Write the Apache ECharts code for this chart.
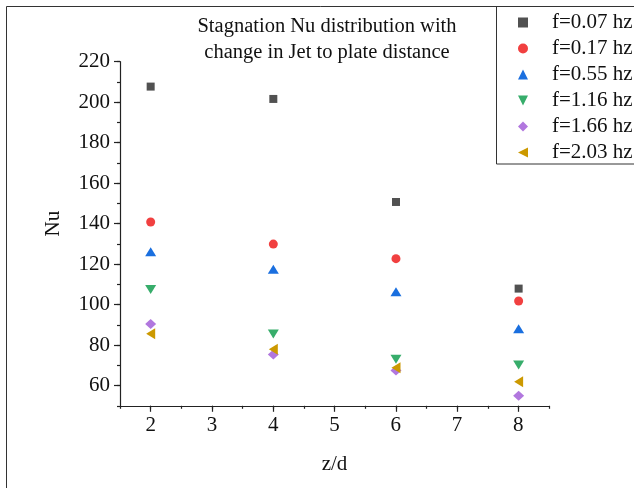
<!DOCTYPE html>
<html>
<head>
<meta charset="utf-8">
<script src="https://cdn.jsdelivr.net/npm/echarts@6/dist/echarts.min.js"></script>
<style>html,body{margin:0;padding:0;background:#fff}#c{width:634px;height:488px}</style>
</head>
<body>
<div id="c"></div>
<script>
const zd = [2, 4, 6, 8];
const seriesNames = ['f=0.07 hz', 'f=0.17 hz', 'f=0.55 hz', 'f=1.16 hz', 'f=1.66 hz', 'f=2.03 hz'];
const nu007 = [207.7, 201.6, 150.7, 107.9];
const nu017 = [140.8, 129.9, 122.7, 101.8];
const nu055 = [126.1, 117.4, 106.4, 88.1];
const nu116 = [107.5, 85.5, 73.0, 70.1];
const nu166 = [90.4, 75.4, 67.5, 55.0];
const nu203 = [85.6, 77.9, 68.8, 61.9];
const yTickLabels = [60, 80, 100, 120, 140, 160, 180, 200, 220];
const xTickLabels = [2, 3, 4, 5, 6, 7, 8];

const allValues = [nu007, nu017, nu055, nu116, nu166, nu203];
const colors = ['#515151', '#F14040', '#1A6FDF', '#37AD6B', '#B177DE', '#CC9900'];
const symbols = ['rect', 'circle', 'triangle', 'path://M0,0 L2,0 L1,2 Z', 'diamond', 'path://M0,1 L2,0 L2,2 Z'];
const sizes = [[8, 8], [9, 9], [11, 9], [11, 9], [11, 10], [9, 11]];
const serif = 'Liberation Serif';

const chart = echarts.init(document.getElementById('c'), null, {renderer: 'canvas'});
const axisLineStyle = {color: '#222', width: 1.2};

const option = {
  animation: false,
  backgroundColor: '#fff',
  title: {
    text: 'Stagnation Nu distribution with\nchange in Jet to plate distance',
    left: 322, top: 9, textAlign: 'center',
    textStyle: {fontFamily: serif, fontSize: 20.5, fontWeight: 'normal', color: '#111', lineHeight: 26}
  },
  legend: {
    orient: 'vertical', left: 513, top: 7,
    itemWidth: 10, itemHeight: 10, itemGap: 5,
    data: seriesNames,
    textStyle: {fontFamily: serif, fontSize: 21, color: '#111', lineHeight: 20, padding: [0, 0, 0, 19]}
  },
  grid: [
    {left: 120, right: 84.7, top: 61.7, bottom: 82.2},
    {left: 120, right: 84.7, top: 61.7, bottom: 102.5},
    {left: 150.7, right: 115.7, top: 61.7, bottom: 82.2}
  ],
  xAxis: [
    {gridIndex: 0, type: 'value', min: 1.5, max: 8.5, interval: 0.5,
     axisLine: {show: true, lineStyle: axisLineStyle}, axisTick: {show: true, length: 3, lineStyle: axisLineStyle},
     axisLabel: {show: false}, splitLine: {show: false}},
    {gridIndex: 1, type: 'value', min: 1.5, max: 8.5, show: false},
    {gridIndex: 2, type: 'value', min: xTickLabels[0], max: xTickLabels[xTickLabels.length - 1], interval: 1,
     axisLine: {show: false}, axisTick: {show: true, length: 6, lineStyle: axisLineStyle},
     axisLabel: {show: true, fontFamily: serif, fontSize: 21, color: '#111', margin: 9},
     splitLine: {show: false},
     name: 'z/d', nameLocation: 'middle', nameGap: 48,
     nameTextStyle: {fontFamily: serif, fontSize: 21, color: '#111'}}
  ],
  yAxis: [
    {gridIndex: 0, type: 'value', min: 50, max: 220, interval: 10,
     axisLine: {show: true, lineStyle: axisLineStyle}, axisTick: {show: true, length: 3, lineStyle: axisLineStyle},
     axisLabel: {show: false}, splitLine: {show: false}},
    {gridIndex: 1, type: 'value', min: yTickLabels[0], max: yTickLabels[yTickLabels.length - 1], interval: 20,
     axisLine: {show: false}, axisTick: {show: true, length: 6, lineStyle: axisLineStyle},
     axisLabel: {show: true, fontFamily: serif, fontSize: 21, color: '#111', margin: 10},
     splitLine: {show: false},
     name: 'Nu', nameLocation: 'middle', nameGap: 56,
     nameTextStyle: {fontFamily: serif, fontSize: 21, color: '#111'}},
    {gridIndex: 2, type: 'value', min: 50, max: 220, show: false}
  ],
  series: seriesNames.map((name, i) => ({
    name: name,
    type: 'scatter',
    xAxisIndex: 0, yAxisIndex: 0,
    symbol: symbols[i],
    symbolSize: sizes[i],
    itemStyle: {color: colors[i], opacity: 1},
    data: zd.map((x, j) => [x, allValues[i][j]])
  })),
  graphic: [
    {type: 'rect', shape: {x: 6.5, y: 6.5, width: 700, height: 600}, style: {fill: 'none', stroke: '#333', lineWidth: 1}, silent: true},
    {type: 'rect', shape: {x: 496.5, y: 6.5, width: 200, height: 157.5}, style: {fill: 'none', stroke: '#333', lineWidth: 1}, silent: true}
  ]
};
chart.setOption(option);
</script>
</body>
</html>
